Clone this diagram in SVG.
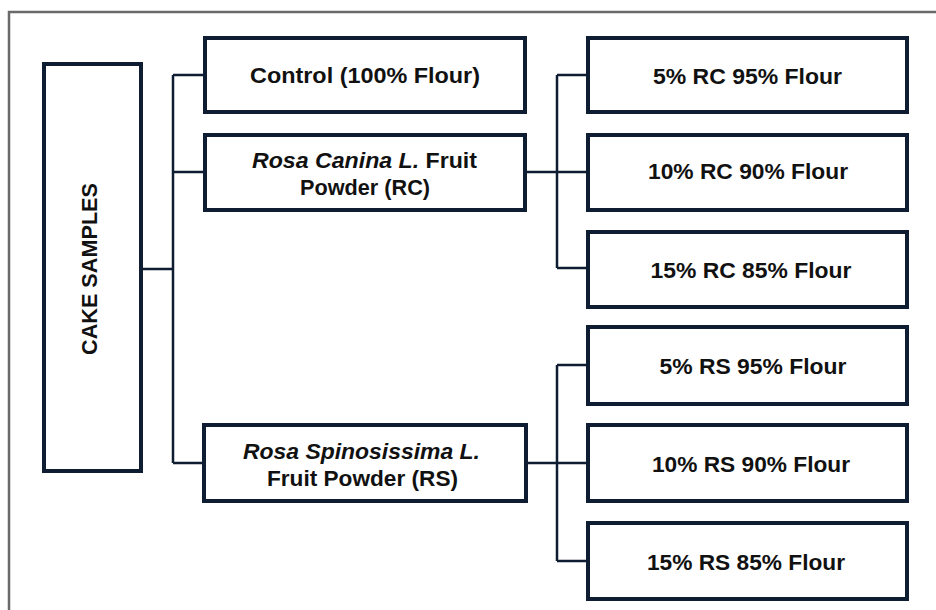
<svg xmlns="http://www.w3.org/2000/svg" width="936" height="610" viewBox="0 0 936 610">
<style>
.box{fill:#ffffff;stroke:#0f1d33;stroke-width:4}
.con{fill:none;stroke:#0f1d33;stroke-width:2.5}
.t{font-family:"Liberation Sans",Arial,sans-serif;font-weight:bold;font-size:22px;fill:#111111;text-anchor:middle}
.i{font-style:italic}
</style>
<rect x="0" y="0" width="936" height="610" fill="#ffffff"/>
<path d="M9,612 V12 H938" fill="none" stroke="#6a6a6a" stroke-width="2.5"/>
<g id="connectors">
<path class="con" d="M142,269 H173 M173,75 V463 M173,75 H204 M173,172 H204 M173,463 H203"/>
<path class="con" d="M526,172 H557 M557,75 V268 M557,75 H587 M557,172 H587 M557,268 H587"/>
<path class="con" d="M527,463 H557 M557,365 V561 M557,365 H587 M557,463 H587 M557,561 H587"/>
</g>
<g id="cake">
<rect class="box" x="44" y="64" width="97" height="407"/>
<text class="t" transform="translate(97,269) rotate(-90)" x="0" y="0" font-size="23" textLength="172" lengthAdjust="spacingAndGlyphs">CAKE SAMPLES</text>
</g>
<g id="control">
<rect class="box" x="205" y="38" width="320" height="74"/>
<text class="t" x="365" y="83" textLength="230" lengthAdjust="spacingAndGlyphs">Control (100% Flour)</text>
</g>
<g id="rc">
<rect class="box" x="205" y="135" width="320" height="75"/>
<text class="t" x="364.5" y="168" textLength="225" lengthAdjust="spacingAndGlyphs"><tspan class="i">Rosa Canina L.</tspan> Fruit</text>
<text class="t" x="365" y="195" textLength="130" lengthAdjust="spacingAndGlyphs">Powder (RC)</text>
</g>
<g id="rs">
<rect class="box" x="204" y="425" width="322" height="76"/>
<text class="t i" x="361.5" y="459" textLength="237" lengthAdjust="spacingAndGlyphs">Rosa Spinosissima L.</text>
<text class="t" x="362.5" y="486" textLength="191" lengthAdjust="spacingAndGlyphs">Fruit Powder (RS)</text>
</g>
<g id="rc5">
<rect class="box" x="588" y="38" width="319" height="74"/>
<text class="t" x="747.5" y="84" textLength="189" lengthAdjust="spacingAndGlyphs">5% RC 95% Flour</text>
</g>
<g id="rc10">
<rect class="box" x="588" y="135" width="319" height="75"/>
<text class="t" x="748" y="179" textLength="200" lengthAdjust="spacingAndGlyphs">10% RC 90% Flour</text>
</g>
<g id="rc15">
<rect class="box" x="588" y="232" width="319" height="75"/>
<text class="t" x="751" y="278" textLength="201" lengthAdjust="spacingAndGlyphs">15% RC 85% Flour</text>
</g>
<g id="rs5">
<rect class="box" x="588" y="327" width="319" height="77"/>
<text class="t" x="753" y="374" textLength="187" lengthAdjust="spacingAndGlyphs">5% RS 95% Flour</text>
</g>
<g id="rs10">
<rect class="box" x="588" y="425" width="319" height="76"/>
<text class="t" x="751" y="472" textLength="198" lengthAdjust="spacingAndGlyphs">10% RS 90% Flour</text>
</g>
<g id="rs15">
<rect class="box" x="588" y="523" width="319" height="76"/>
<text class="t" x="746" y="570" textLength="198" lengthAdjust="spacingAndGlyphs">15% RS 85% Flour</text>
</g>
</svg>
